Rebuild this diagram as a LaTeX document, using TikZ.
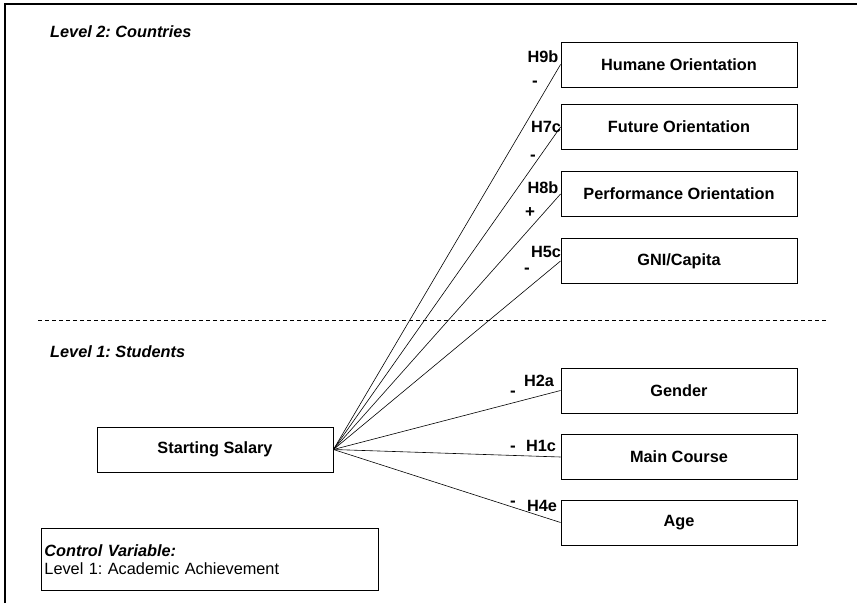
\documentclass[tikz,border=0pt]{standalone}
\usepackage{fontspec}
\setmainfont{Liberation Sans}
\frenchspacing
\begin{document}
\begin{tikzpicture}[x=1pt,y=-1pt,
  every node/.style={font=\fontsize{16.3}{18.5}\selectfont},
  varbox/.style={draw, line width=0.9pt, minimum width=236pt, minimum height=45pt,
    inner sep=0pt, font=\fontsize{16.3}{18.5}\selectfont\bfseries},
  hyp/.style={inner sep=0pt, font=\fontsize{16.3}{18.5}\selectfont\bfseries},
  sgn/.style={inner sep=0pt, font=\fontsize{17}{18.5}\selectfont\bfseries},
  levellabel/.style={anchor=west, inner sep=0pt, font=\fontsize{16.3}{18.5}\selectfont\bfseries\itshape},
  path/.style={line width=0.6pt}]
\useasboundingbox (0,0) rectangle (857,603);

% outer frame (top and left edges)
\draw[line width=1.2pt] (5,603) -- (5,4) -- (857,4);

% level labels and separator
\node[levellabel] (lv2) at (50,32) {Level 2: Countries};
\node[levellabel] (lv1) at (50,352) {Level 1: Students};
\draw[dashed, dash pattern=on 4pt off 3pt, line width=0.6pt] (38,320) -- (828,320);

% level 2 predictors
\node[varbox] (hum) at (679,64.5) {Humane Orientation};
\node[varbox] (fut) at (679,127) {Future Orientation};
\node[varbox] (perf) at (679,194) {Performance Orientation};
\node[varbox] (gni) at (679,261) {GNI/Capita};

% level 1 predictors
\node[varbox] (gen) at (679,390.5) {Gender};
\node[varbox] (course) at (679,457) {Main Course};
\node[varbox] (age) at (679,522.5) {Age};

% outcome
\node[varbox] (sal) at (215,449.5) {Starting Salary};

% control variable
\node[draw, line width=0.9pt, minimum width=337pt, minimum height=62pt,
  text width=331pt, align=left, inner xsep=3pt, anchor=north west] (ctrl) at (41,528)
  {{\bfseries\itshape Control Variable:}\\Level 1: Academic Achievement};

% hypothesised paths
\foreach \t in {hum,fut,perf,gni,gen,course,age}
  \draw[path] (sal.east) -- (\t.west);

% hypothesis labels and signs
\node[hyp] (h9b) at (543,57) {H9b};
\node[sgn] (s9b) at (535,84) {-};
\node[hyp] (h7c) at (546,127) {H7c};
\node[sgn] (s7c) at (533,158) {-};
\node[hyp] (h8b) at (543,188) {H8b};
\node[sgn] (s8b) at (530,213) {+};
\node[hyp] (h5c) at (546,252) {H5c};
\node[sgn] (s5c) at (527,271) {-};
\node[hyp] (h2a) at (539,381) {H2a};
\node[sgn] (s2a) at (513,394) {-};
\node[hyp] (h1c) at (541,446) {H1c};
\node[sgn] (s1c) at (513,449) {-};
\node[hyp] (h4e) at (542,506) {H4e};
\node[sgn] (s4e) at (513,504) {-};
\end{tikzpicture}
\end{document}
